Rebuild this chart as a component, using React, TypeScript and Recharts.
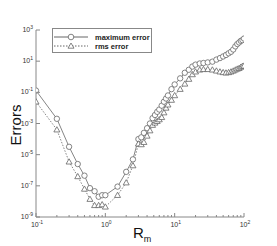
import { LineChart, Line, XAxis, YAxis } from "recharts";

const RM = [
  0.1, 0.2, 0.3, 0.4, 0.5, 0.6, 0.7, 0.8, 0.9, 1.0, 1.5, 2, 2.5, 3, 3.3, 3.6,
  4, 4.4, 4.8, 5.2, 5.6, 6, 6.5, 7, 7.5, 8, 9, 10, 12, 14, 16, 18, 20, 23, 26,
  30, 35, 40, 45, 50, 55, 60, 65, 70, 75, 80, 85, 90, 95, 100,
];
const MAX_ERROR = [
  1.3e-1, 2e-3, 3.2e-5, 2.5e-6, 4.5e-7, 7.1e-8, 4.5e-8, 2e-8, 2.5e-8, 2.5e-8,
  8.9e-8, 7.9e-7, 5e-6, 1e-4, 1.3e-4, 2.5e-4, 5e-4, 1e-3, 2.2e-3, 3.5e-3,
  5.6e-3, 7.9e-3, 1.4e-2, 2.5e-2, 4e-2, 6.3e-2, 1.6e-1, 3.2e-1, 7.9e-1, 1.8,
  2.8, 4.5, 6.0, 7.1, 7.6, 8.3, 9.3, 12.6, 15.8, 20,
  25, 32, 40, 56, 89, 126, 158, 200, 224, 282,
];
const RMS_ERROR = [
  2.5e-2, 4e-4, 3.5e-6, 4e-7, 6.3e-8, 1.4e-8, 5.6e-9, 5.6e-9, 6.3e-9, 4.5e-9,
  2.5e-8, 1.6e-7, 2e-6, 5e-5, 4.5e-5, 6.3e-5, 1.6e-4, 3.5e-4, 7.9e-4, 1.1e-3,
  1.4e-3, 1.8e-3, 2.5e-3, 5e-3, 1e-2, 1.6e-2, 3.2e-2, 6.3e-2, 1.6e-1, 3.5e-1,
  7.1e-1, 1.4, 2.1, 2.8, 3.0, 3.0, 2.8, 2.4, 2.1, 1.9,
  1.8, 1.9, 2.1, 2.4, 2.8, 3.2, 3.5, 4.2, 4.8, 5.0,
];

const X_TICKS = [
  0.1, 0.2, 0.3, 0.4, 0.5, 0.6, 0.7, 0.8, 0.9, 1, 2, 3, 4, 5, 6, 7, 8, 9, 10,
  20, 30, 40, 50, 60, 70, 80, 90, 100,
];
const Y_TICKS = [1e-9, 1e-7, 1e-5, 1e-3, 1e-1, 1e1, 1e3];

const data = RM.map((x, i) => ({ x, max: MAX_ERROR[i], rms: RMS_ERROR[i] }));

const AXIS = "#888";
const INK = "#666";
const FONT = "'Liberation Sans', Arial, sans-serif";

function exponent(v: number) {
  return Math.round(Math.log10(v));
}

const XTick = (props: any) => {
  const { x, y, payload } = props;
  const v = payload.value;
  const e = exponent(v);
  const major = Math.abs(Math.log10(v) - e) < 1e-6;
  return (
    <g>
      <line x1={x} x2={x} y1={y} y2={y - (major ? 4 : 2)} stroke={AXIS} />
      {major && (
        <text x={x + 1} y={y + 10} textAnchor="middle" fontSize={7} fill="#333" fontFamily={FONT}>
          10
          <tspan dy={-3} fontSize={5}>{e}</tspan>
        </text>
      )}
    </g>
  );
};

const YTick = (props: any) => {
  const { x, y, payload } = props;
  const e = exponent(payload.value);
  return (
    <g>
      <line x1={x} x2={x + 4} y1={y} y2={y} stroke={AXIS} />
      <text x={x - 3} y={y + 2} textAnchor="end" fontSize={7} fill="#333" fontFamily={FONT}>
        10
        <tspan dy={-3} fontSize={5}>{e}</tspan>
      </text>
    </g>
  );
};

const CircleDot = (props: any) => {
  const { cx, cy, index } = props;
  if (cx == null || cy == null) return <g key={index} />;
  return <circle key={index} cx={cx} cy={cy} r={2.7} fill="#fff" stroke={INK} strokeWidth={0.8} />;
};

const TriDot = (props: any) => {
  const { cx, cy, index } = props;
  if (cx == null || cy == null) return <g key={index} />;
  const s = 3;
  return (
    <polygon
      key={index}
      points={`${cx},${cy - s} ${cx - s},${cy + s * 0.75} ${cx + s},${cy + s * 0.75}`}
      fill="#fff"
      stroke={INK}
      strokeWidth={0.8}
    />
  );
};

export default function App() {
  return (
    <div style={{ position: "absolute", left: 0, top: 0, width: 277, height: 246, background: "#fff" }}>
      <LineChart
        width={277}
        height={246}
        data={data}
        margin={{ top: 30, right: 33, left: 0, bottom: 0 }}
      >
        <XAxis
          dataKey="x"
          type="number"
          scale="log"
          domain={[0.1, 100]}
          ticks={X_TICKS}
          interval={0}
          tickSize={0}
          tickMargin={0}
          tickLine={false}
          tick={<XTick />}
          stroke={AXIS}
          height={29}
          allowDataOverflow
        />
        <YAxis
          type="number"
          scale="log"
          domain={[1e-9, 1e3]}
          ticks={Y_TICKS}
          interval={0}
          tickSize={0}
          tickMargin={0}
          tickLine={false}
          tick={<YTick />}
          stroke={AXIS}
          width={36}
          allowDataOverflow
        />
        <Line
          dataKey="max"
          type="linear"
          stroke={INK}
          strokeWidth={0.8}
          dot={<CircleDot />}
          isAnimationActive={false}
        />
        <Line
          dataKey="rms"
          type="linear"
          stroke={INK}
          strokeWidth={0.8}
          strokeDasharray="1.5 1.5"
          dot={<TriDot />}
          isAnimationActive={false}
        />
      </LineChart>
      <svg
        width={277}
        height={246}
        style={{ position: "absolute", left: 0, top: 0, pointerEvents: "none" }}
      >
        <g transform="translate(52,28)">
          <rect x={0.5} y={0.5} width={99} height={24} fill="#fff" stroke={AXIS} />
          <line x1={2} x2={36} y1={9} y2={9} stroke={INK} />
          <circle cx={19} cy={9} r={2.8} fill="#fff" stroke={INK} strokeWidth={0.8} />
          <text x={43} y={11.5} fontSize={7.5} fontWeight="bold" fill="#222" fontFamily={FONT}>
            maximum error
          </text>
          <line x1={2} x2={36} y1={18} y2={18} stroke={INK} strokeDasharray="1.5 1.5" />
          <polygon points="19,15 16,20.2 22,20.2" fill="#fff" stroke={INK} strokeWidth={0.8} />
          <text x={43} y={20.5} fontSize={7.5} fontWeight="bold" fill="#222" fontFamily={FONT}>
            rms error
          </text>
        </g>
        <text
          transform="translate(21,125) rotate(-90)"
          textAnchor="middle"
          fontSize={15}
          fill="#111"
          fontFamily={FONT}
        >
          Errors
        </text>
        <text x={133} y={238} fontSize={15} fill="#111" fontFamily={FONT}>
          R
          <tspan dy={4} fontSize={9}>m</tspan>
        </text>
      </svg>
    </div>
  );
}
